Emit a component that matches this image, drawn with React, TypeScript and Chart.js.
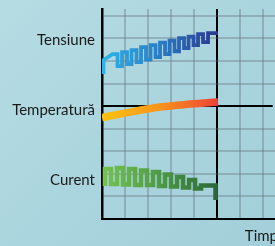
import React, { useEffect, useRef } from 'react';
import { Chart, registerables } from 'chart.js';

Chart.register(...registerables);

// Row labels on the left axis and their vertical positions (axis units)
const rowLabels = ['Tensiune', 'Temperatură', 'Curent'];
const rowLabelValues = [79.0, 48.2, 17.0];
const xAxisTitle = 'Timp';

// Grid positions
const gridX = [0, 10, 20, 30, 40, 50, 60, 70];
const gridY = [0, 10, 20, 30, 40, 50, 60, 70, 80, 90];

// Tensiune (square-wave trace)
const tensiuneX = [0.65, 0.65, 4.57, 6.74, 6.74, 8.7, 8.7, 10.87, 10.87, 12.83, 12.83, 15.0, 15.0, 16.96, 16.96, 19.13, 19.13, 21.09, 21.09, 23.26, 23.26, 25.22, 25.22, 27.39, 27.39, 29.35, 29.35, 31.52, 31.52, 33.48, 33.48, 35.65, 35.65, 37.61, 37.61, 39.78, 39.78, 41.74, 41.74, 43.91, 43.91, 46.09, 46.09, 50.43];
const tensiuneY = [64.2, 70.4, 73.0, 73.0, 67.7, 67.7, 73.9, 73.9, 68.6, 68.6, 74.8, 74.8, 69.5, 69.5, 76.1, 76.1, 70.6, 70.6, 77.0, 77.0, 71.7, 71.7, 78.1, 78.1, 73.0, 73.0, 79.0, 79.0, 74.3, 74.3, 80.1, 80.1, 75.7, 75.7, 80.8, 80.8, 77.0, 77.0, 81.9, 81.9, 78.3, 78.3, 82.3, 82.3];

// Temperatură (smooth rising trace)
const temperaturaX = [0, 12.17, 25.22, 38.26, 50.43];
const temperaturaY = [44.9, 47.35, 49.56, 50.88, 51.77];

// Curent (square-wave trace)
const curentX = [1.3, 1.3, 3.91, 3.91, 6.52, 6.52, 9.13, 9.13, 11.74, 11.74, 14.35, 14.35, 16.96, 16.96, 19.57, 19.57, 22.17, 22.17, 24.78, 24.78, 27.39, 27.39, 30.0, 30.0, 32.61, 32.61, 35.22, 35.22, 37.83, 37.83, 40.43, 40.43, 43.04, 43.04, 49.35, 49.35];
const curentY = [14.6, 22.12, 22.12, 15.49, 15.49, 22.57, 22.57, 15.27, 15.27, 22.12, 22.12, 15.04, 15.04, 21.46, 21.46, 15.04, 15.04, 20.8, 20.8, 14.6, 14.6, 19.69, 19.69, 14.38, 14.38, 18.58, 18.58, 13.94, 13.94, 17.26, 17.26, 13.5, 13.5, 14.82, 14.82, 8.41];

// Black reference line
const refLineX = [0, 74.2];
const refLineY = [50, 50];

const blueStops: [number, string][] = [[0, '#2db3e8'], [0.5, '#2a7cc4'], [1, '#2b3590']];
const orangeStops: [number, string][] = [[0, '#fdc20f'], [0.5, '#f7941d'], [1, '#ef4136']];
const greenStops: [number, string][] = [[0, '#74c150'], [0.5, '#4e9a45'], [1, '#2c6838']];

const zip = (xs: number[], ys: number[]) => xs.map((x, i) => ({ x, y: ys[i] }));

function gradientFor(chart: any, stops: [number, string][], x0: number, x1: number) {
  const { ctx, chartArea, scales } = chart;
  if (!chartArea || !scales.x) return stops[0][1];
  const p0 = scales.x.getPixelForValue(x0);
  const p1 = scales.x.getPixelForValue(x1);
  const g = ctx.createLinearGradient(p0, 0, p1, 0);
  stops.forEach(([o, c]) => g.addColorStop(o, c));
  return g;
}

const FONT = 'Lato, "Open Sans", sans-serif';
const GRID = 'rgba(95,105,115,0.34)';

export default function App() {
  const ref = useRef<HTMLCanvasElement>(null);
  useEffect(() => {
    if (!ref.current) return;
    const lineBase = { pointRadius: 0, borderCapStyle: 'butt', borderJoinStyle: 'miter', fill: false };
    const chart = new Chart(ref.current, {
      type: 'line',
      data: {
        datasets: [
          { ...lineBase, data: zip(refLineX, refLineY), borderColor: '#000', borderWidth: 2, order: 10, tension: 0 },
          { ...lineBase, data: zip(temperaturaX, temperaturaY), borderWidth: 7.5, tension: 0.4,
            borderColor: (c: any) => gradientFor(c.chart, orangeStops, 0, 50.43) },
          { ...lineBase, data: zip(tensiuneX, tensiuneY), borderWidth: 3.8, tension: 0,
            borderColor: (c: any) => gradientFor(c.chart, blueStops, 0.65, 50.43) },
          { ...lineBase, data: zip(curentX, curentY), borderWidth: 4.6, tension: 0,
            borderColor: (c: any) => gradientFor(c.chart, greenStops, 1.3, 49.35) },
        ] as any,
      },
      options: {
        animation: false,
        responsive: false,
        devicePixelRatio: 1,
        layout: { padding: { top: 9, right: 12, bottom: 0, left: 0 } },
        plugins: { legend: { display: false }, tooltip: { enabled: false } },
        scales: {
          x: {
            type: 'linear',
            min: 0,
            max: 76.5,
            afterBuildTicks: (axis: any) => { axis.ticks = gridX.map((v) => ({ value: v })); },
            afterFit: (axis: any) => {
              axis.height = 27;
              axis.paddingLeft = 0;
              axis.paddingRight = 0;
            },
            ticks: { display: false },
            grid: {
              drawTicks: false,
              lineWidth: 2,
              color: (c: any) => (c.tick && c.tick.value === 50 ? '#000' : GRID),
            },
            border: { display: true, color: '#000', width: 2 },
            title: {
              display: true,
              text: xAxisTitle,
              align: 'end',
              color: '#1a1a1a',
              font: { family: FONT, size: 15 },
              padding: { top: 0, bottom: 1 },
            },
          },
          y: {
            type: 'linear',
            min: 0,
            max: 93,
            afterBuildTicks: (axis: any) => {
              axis.ticks = [...gridY, ...rowLabelValues].sort((a, b) => a - b).map((v) => ({ value: v }));
            },
            afterFit: (axis: any) => {
              axis.width = 102;
              axis.paddingTop = 0;
              axis.paddingBottom = 0;
            },
            ticks: {
              autoSkip: false,
              padding: 7,
              color: '#1a1a1a',
              font: { family: FONT, size: 15 },
              callback: (v: any) => {
                const i = rowLabelValues.indexOf(Number(v));
                return i >= 0 ? rowLabels[i] : '';
              },
            },
            grid: {
              drawTicks: false,
              lineWidth: 2,
              color: (c: any) => {
                const v = c.tick ? c.tick.value : 0;
                if (gridY.indexOf(v) < 0 || v === 50 || v === 0) return 'rgba(0,0,0,0)';
                return GRID;
              },
            },
            border: { display: true, color: '#000', width: 2.5 },
          },
        },
      } as any,
    });
    return () => chart.destroy();
  }, []);

  return (
    <div
      style={{
        position: 'fixed',
        left: 0,
        top: 0,
        width: 275,
        height: 246,
        overflow: 'hidden',
        background: 'linear-gradient(135deg, #b6dce3 0%, #abd5de 50%, #a2cfd9 100%)',
      }}
    >
      <canvas ref={ref} width={290} height={246} style={{ display: 'block' }} />
    </div>
  );
}
